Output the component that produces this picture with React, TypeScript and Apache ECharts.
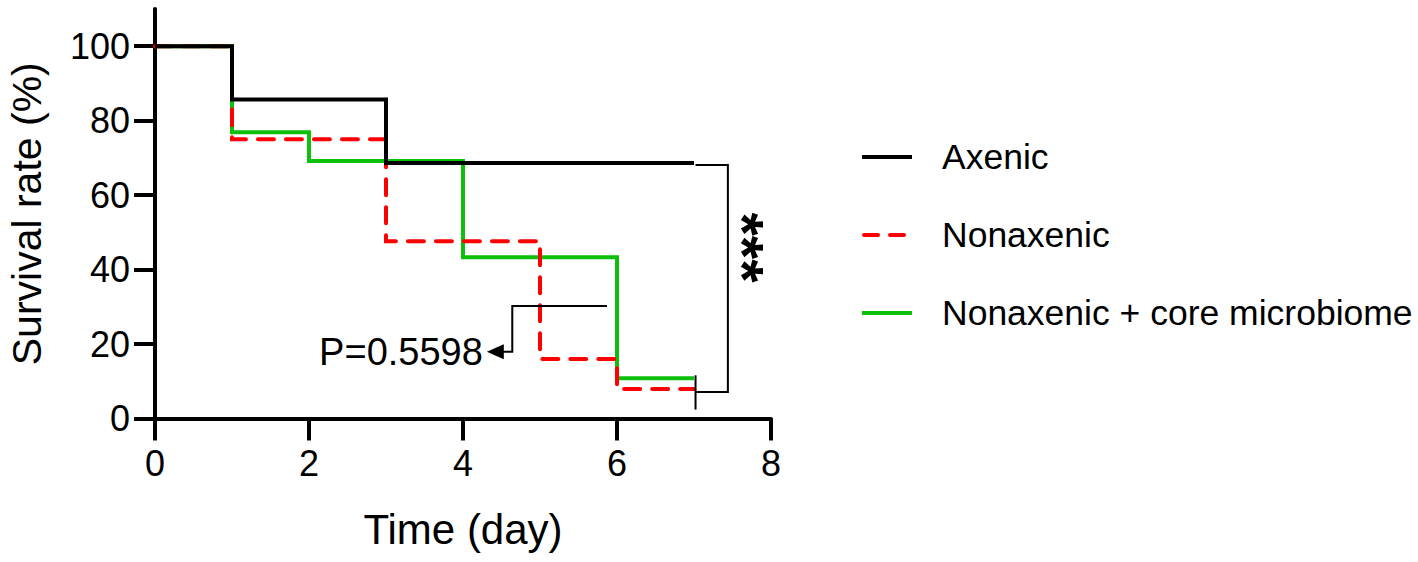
import React, { useEffect, useRef } from "react";
import * as echarts from "echarts";

const FONT = "'Liberation Sans', Arial, Helvetica, sans-serif";

const seriesNames = ["Axenic", "Nonaxenic", "Nonaxenic + core microbiome"];
const seriesColors = ["#000000", "#ff0000", "#0cc00c"];
const seriesDashed = [false, true, false];

// Kaplan-Meier step data: [day, survival %]
const axenicData = [
  [0, 100],
  [1, 85.7],
  [3, 68.6],
  [7, 68.6],
];
const nonaxenicData = [
  [0, 100],
  [1, 75],
  [3, 47.6],
  [5, 16],
  [6, 7.9],
  [7, 7.9],
];
const coreData = [
  [0, 100],
  [1, 76.9],
  [2, 69.2],
  [4, 43.3],
  [6, 10.8],
  [7, 10.8],
];

const xTicks = [0, 2, 4, 6, 8];
const yTicks = [0, 20, 40, 60, 80, 100];

// annotation anchors in data coordinates
const pBracket = [
  [5.87, 30.2],
  [4.64, 30.2],
  [4.64, 17.9],
  [4.5, 17.9],
];
const pArrowTip = [4.31, 17.9];
const pArrowBaseX = 4.53;
const pLabel = "P=0.5598";
const sigBracket = [
  [7.02, 68.1],
  [7.44, 68.1],
  [7.44, 7.1],
  [7.02, 7.1],
];
const sigTick = [
  [7.02, 11.6],
  [7.02, 2.4],
];
const sigLabel = "***";

const DASH = [16, 12];

export default function App() {
  const ref = useRef<HTMLDivElement>(null);

  useEffect(() => {
    if (!ref.current) return;
    const chart = echarts.init(ref.current, null, { renderer: "svg" });

    const mkSeries = (i: number, data: number[][], z: number) => ({
      name: seriesNames[i],
      type: "line",
      step: "end",
      data,
      symbol: "none",
      z,
      lineStyle: {
        color: seriesColors[i],
        width: 4,
        type: seriesDashed[i] ? DASH : "solid",
        cap: seriesDashed[i] ? "round" : "butt",
        join: "miter",
      },
      itemStyle: { color: seriesColors[i] },
    });

    chart.setOption({
      animation: false,
      backgroundColor: "#ffffff",
      grid: { left: 155, top: 9, width: 616, height: 409.5, containLabel: false },
      xAxis: {
        type: "value",
        min: 0,
        max: 8,
        interval: 2,
        name: "Time (day)",
        nameLocation: "middle",
        nameGap: 90,
        nameTextStyle: { fontSize: 42, fontFamily: FONT, color: "#000" },
        splitLine: { show: false },
        axisLine: { show: true, lineStyle: { color: "#000", width: 4 } },
        axisTick: { show: true, length: 22, lineStyle: { color: "#000", width: 4 } },
        axisLabel: {
          fontSize: 36,
          fontFamily: FONT,
          color: "#000",
          margin: 27,
          customValues: xTicks,
        },
      },
      yAxis: {
        type: "value",
        min: 0,
        max: 110,
        interval: 20,
        name: "Survival rate (%)",
        nameLocation: "middle",
        nameGap: 108,
        nameTextStyle: { fontSize: 41, fontFamily: FONT, color: "#000" },
        splitLine: { show: false },
        axisLine: { show: true, lineStyle: { color: "#000", width: 4 } },
        axisTick: {
          show: true,
          length: 21,
          lineStyle: { color: "#000", width: 4 },
          customValues: yTicks,
        },
        axisLabel: {
          fontSize: 36,
          fontFamily: FONT,
          color: "#000",
          margin: 25,
          customValues: yTicks,
        },
      },
      series: [
        mkSeries(2, coreData, 2),
        mkSeries(1, nonaxenicData, 3),
        mkSeries(0, axenicData, 4),
      ],
    });

    const px = (p: number[]) => chart.convertToPixel({ gridIndex: 0 }, p) as number[];
    const pPts = pBracket.map(px);
    const tip = px(pArrowTip);
    const base = px([pArrowBaseX, pArrowTip[1]]);
    const sPts = sigBracket.map(px);
    const tPts = sigTick.map(px);
    const starX = sPts[1][0] + 15;
    const starY = (sPts[1][1] + sPts[2][1]) / 2 - 31;

    // legend drawn as graphic rows
    const legendX = 862;
    const legendTop = 157;
    const legendPitch = 78;
    const legendItems: any[] = [];
    seriesNames.forEach((name, i) => {
      const y = legendTop + i * legendPitch;
      legendItems.push({
        type: "line",
        shape: { x1: legendX + (seriesDashed[i] ? 2 : 0), y1: y, x2: legendX + 50, y2: y },
        style: {
          stroke: seriesColors[i],
          lineWidth: 4,
          lineDash: seriesDashed[i] ? [14, 12] : null,
          lineCap: seriesDashed[i] ? "round" : "butt",
        },
      });
      legendItems.push({
        type: "text",
        x: legendX + 80,
        y,
        style: {
          text: name,
          fontSize: 35.5,
          fontFamily: FONT,
          fill: "#000",
          align: "left",
          verticalAlign: "middle",
        },
      });
    });

    chart.setOption({
      graphic: [
        ...legendItems,
        {
          type: "polyline",
          shape: { points: pPts },
          style: { stroke: "#000", lineWidth: 2, fill: null },
          z: 10,
        },
        {
          type: "polygon",
          shape: {
            points: [
              [tip[0], tip[1]],
              [base[0], tip[1] - 7.5],
              [base[0], tip[1] + 7.5],
            ],
          },
          style: { fill: "#000" },
          z: 10,
        },
        {
          type: "text",
          x: tip[0] - 4,
          y: tip[1],
          style: {
            text: pLabel,
            fontSize: 38,
            fontFamily: FONT,
            fill: "#000",
            align: "right",
            verticalAlign: "middle",
          },
          z: 10,
        },
        {
          type: "polyline",
          shape: { points: sPts },
          style: { stroke: "#000", lineWidth: 2, fill: null },
          z: 10,
        },
        {
          type: "line",
          shape: { x1: tPts[0][0], y1: tPts[0][1], x2: tPts[1][0], y2: tPts[1][1] },
          style: { stroke: "#000", lineWidth: 2 },
          z: 10,
        },
        {
          type: "text",
          x: starX,
          y: starY,
          rotation: -Math.PI / 2,
          style: {
            text: sigLabel,
            fontSize: 60,
            fontWeight: "bold",
            fontFamily: FONT,
            fill: "#000",
            align: "center",
            verticalAlign: "middle",
          },
          z: 10,
        },
      ],
    });

    return () => chart.dispose();
  }, []);

  return (
    <div
      ref={ref}
      style={{ position: "absolute", left: 0, top: 0, width: 1418, height: 562 }}
    />
  );
}
